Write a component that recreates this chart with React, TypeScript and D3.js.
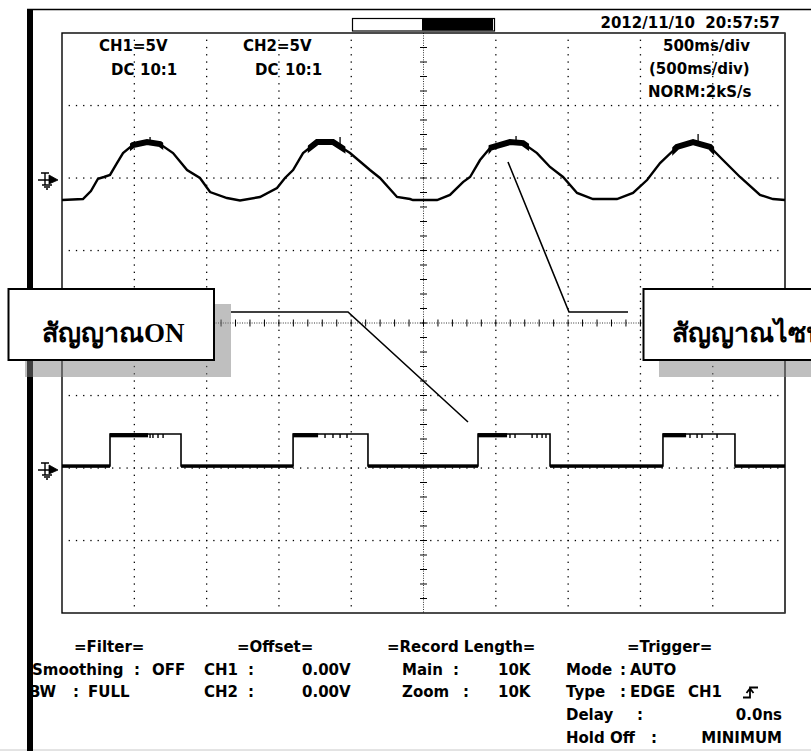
import React from "react";
import * as d3 from "d3";

const W = 811;
const H = 751;

// ---------- data ----------
// CH1 (sine-like) samples: time in ms, volts (5 V/div)
const ch1Time = [0, 145, 200, 249, 290, 332, 380, 422, 491, 588, 678, 768, 865, 954, 1024, 1141, 1231, 1369, 1487, 1542, 1598, 1667, 1764, 1874, 1992, 2130, 2199, 2317, 2407, 2427, 2594, 2683, 2773, 2822, 2891, 2960, 3098, 3188, 3285, 3375, 3465, 3562, 3672, 3838, 3949, 4046, 4136, 4253, 4364, 4482, 4571, 4689, 4827, 4917, 5000];
const ch1Volt = [-1.52, -1.45, -0.9, -0.05, 0.07, 0.21, 1.03, 1.72, 2.28, 2.48, 2.34, 1.72, 0.55, 0.0, -0.97, -1.38, -1.55, -1.31, -0.69, 0.0, 0.55, 1.72, 2.48, 2.48, 1.72, 0.55, 0.0, -1.31, -1.45, -1.52, -1.52, -1.17, -0.28, 0.07, 1.24, 2.07, 2.48, 2.41, 1.72, 0.76, 0.07, -1.03, -1.45, -1.45, -1.03, -0.14, 1.03, 2.14, 2.48, 2.14, 1.24, 0.07, -1.17, -1.45, -1.52];
// noisy (thick) stretches of CH1 around the crests: [start ms, end ms]
const ch1NoiseBands = [[470, 700], [1700, 1960], [2950, 3230], [4220, 4510]];
// CH1 glitch spikes: [ms, top volts]
const ch1Spikes = [[609, 2.83], [1923, 2.83], [3140, 2.9], [4399, 3.03]];

// CH2 (square) levels: step change times in ms and level in volts
const ch2Time = [0, 332, 823, 1598, 2116, 2877, 3375, 4156, 4654, 5000];
const ch2Volt = [0.15, 2.35, 0.15, 2.35, 0.15, 2.35, 0.15, 2.35, 0.15, 0.15];
// thick band at the start of each high level: [start ms, end ms]
const ch2HighBands = [[332, 595], [1598, 1771], [2877, 3078], [4156, 4316]];
// small drop-out ticks on the high level (ms)
const ch2Ticks = [609, 629, 664, 699, 1819, 1874, 1923, 1971, 3098, 3133, 3251, 3285, 3320, 3347, 4343, 4392, 4426, 4530];

// ---------- text ----------
const dateLabel = "2012/11/10  20:57:57";
const headerTexts = ["CH1=5V", "DC", "10:1", "CH2=5V", "DC", "10:1", "500ms/div", "(500ms/div)", "NORM:2kS/s"];
const footerTexts = [
  "=Filter=", "=Offset=", "=Record Length=", "=Trigger=",
  "Smoothing", ":", "OFF", "CH1", ":", "0.00V", "Main", ":", "10K", "Mode", ":", "AUTO",
  "BW", ":", "FULL", "CH2", ":", "0.00V", "Zoom", ":", "10K", "Type", ":", "EDGE", "CH1",
  "Delay", ":", "0.0ns",
  "Hold", "Off", ":", "MINIMUM",
];
const calloutLeft = "สัญญาณON";
const calloutRight = "สัญญาณไซน์";

// ---------- layout ----------
const headerPos: [number, number][] = [[99, 51], [111, 75], [140, 75], [243, 51], [255, 75], [285, 75], [663, 51], [649, 74], [648, 97]];
const footerPos: [number, number, string?][] = [
  [74, 652], [237, 652], [387, 652], [627, 652],
  [32, 675], [134, 675], [152, 675], [204, 675], [248, 675], [302, 675], [402, 675], [453, 675], [498, 675], [566, 675], [620, 675], [630, 675],
  [29, 697], [73, 697], [88, 697], [204, 697], [248, 697], [302, 697], [402, 697], [463, 697], [498, 697], [566, 697], [620, 697], [630, 697], [688, 697],
  [566, 720], [637, 720], [782, 720, "end"],
  [566, 743], [610, 743], [651, 743], [782, 743, "end"],
];

const L = 62, R = 785, T = 33, B = 613;

export default function App() {
  const x = d3.scaleLinear().domain([0, 5000]).range([L, R]);
  const yDiv = d3.scaleLinear().domain([-4, 4]).range([B, T]);
  const y1 = (v: number) => yDiv(v / 5 + 2);
  const y2 = (v: number) => yDiv(v / 5 - 2);

  const ch1 = ch1Time.map((t, i) => [t, ch1Volt[i]] as [number, number]);
  const ch2 = ch2Time.map((t, i) => [t, ch2Volt[i]] as [number, number]);

  const line1 = d3.line<[number, number]>().x(d => x(d[0])).y(d => y1(d[1]));
  const line2 = d3.line<[number, number]>().x(d => x(d[0])).y(d => y2(d[1])).curve(d3.curveStepAfter);

  const divX = (R - L) / 10;
  const divY = (B - T) / 8;

  const vGrid = d3.range(1, 10).filter(i => i !== 5).map(i => L + i * divX);
  const hGrid = d3.range(1, 8).filter(i => i !== 4).map(i => T + i * divY);
  const cx = L + 5 * divX;
  const cy = T + 4 * divY;

  const dotsY = d3.range(1, 80).map(k => T + k * divY / 10);
  const dotsX = d3.range(1, 100).map(k => L + k * divX / 10);
  const minorX = d3.range(1, 50).map(k => L + k * divX / 5);
  const minorY = d3.range(1, 40).map(k => T + k * divY / 5);

  const screenFont = "'DejaVu Sans', sans-serif";
  const calloutFont = "'Liberation Serif', 'DejaVu Serif', serif";

  const groundSym = (gy: number) => {
    const c = gy + 2;
    return (
      <g stroke="#000" strokeWidth={1.4} fill="none">
        <path d={`M41,${c - 7}H49M45,${c - 7}V${c + 5}M38,${c}H50M42,${c + 5}H52M44,${c + 7}H50M46,${c + 9}H48`} />
        <path d={`M49,${c - 5}L58,${c}L49,${c + 4}Z`} fill="#000" strokeWidth={0.8} />
      </g>
    );
  };

  const lows = ch2.slice(0, -1).map((d, i) => [d[0], ch2[i + 1][0], d[1]] as [number, number, number]).filter(d => d[2] < 1);
  const highV = d3.max(ch2Volt) as number;

  const interp1 = (t: number) => {
    const k = Math.max(1, d3.bisectLeft(ch1Time, t));
    const t0 = ch1Time[k - 1], t1 = ch1Time[k];
    return ch1Volt[k - 1] + (ch1Volt[k] - ch1Volt[k - 1]) * (t - t0) / (t1 - t0);
  };

  return (
    <svg width={W} height={H} style={{ position: "absolute", left: 0, top: 0 }}>
      <rect width={W} height={H} fill="#fff" />
      <defs>
        <clipPath id="ch1bands">
          {ch1NoiseBands.map((b, i) => (
            <rect key={i} x={x(b[0])} y={T} width={x(b[1]) - x(b[0])} height={B - T} />
          ))}
        </clipPath>
        <clipPath id="plot">
          <rect x={L} y={T} width={R - L} height={B - T} />
        </clipPath>
      </defs>

      {/* outer frame */}
      <line x1={27} x2={W} y1={9.5} y2={9.5} stroke="#000" strokeWidth={1.5} />
      <line x1={0} x2={W} y1={750} y2={750} stroke="#c8c8c8" strokeWidth={1} />

      {/* top memory bar */}
      <rect x={352.5} y={18.5} width={142} height={12.5} fill="#fff" stroke="#000" strokeWidth={1.2} />
      <rect x={422} y={19} width={71} height={11.5} fill="#000" />

      {/* grid dots */}
      <g fill="#000">
        {vGrid.map((gx, i) => dotsY.map((dy, j) => <rect key={`v${i}-${j}`} x={gx - 0.6} y={dy - 0.6} width={1.3} height={1.3} />))}
        {hGrid.map((gy, i) => dotsX.map((dx, j) => <rect key={`h${i}-${j}`} x={dx - 0.6} y={gy - 0.6} width={1.3} height={1.3} />))}
      </g>
      {/* centre cross */}
      <g stroke="#000" strokeWidth={1}>
        <line x1={L} x2={R} y1={cy} y2={cy} strokeDasharray="1 1.4" strokeWidth={0.8} />
        <line x1={cx} x2={cx} y1={T} y2={B} strokeDasharray="1 1.4" strokeWidth={0.8} />
        {minorX.map((mx, i) => <line key={`mx${i}`} x1={mx} x2={mx} y1={cy - 3.5} y2={cy + 3.5} />)}
        {minorY.map((my, i) => <line key={`my${i}`} x1={cx - 3.5} x2={cx + 3.5} y1={my} y2={my} />)}
      </g>

      {/* plot border */}
      <rect x={L} y={T} width={R - L} height={B - T} fill="none" stroke="#000" strokeWidth={1.4} />
      <line x1={R} x2={R} y1={T} y2={B} stroke="#444" strokeWidth={1.6} />

      {/* traces */}
      <g clipPath="url(#plot)">
        <path d={line1(ch1) ?? ""} fill="none" stroke="#000" strokeWidth={2.4} strokeLinejoin="miter" />
        <path d={line1(ch1) ?? ""} fill="none" stroke="#000" strokeWidth={6} clipPath="url(#ch1bands)" />
        {ch1Spikes.map((s, i) => (
          <line key={i} x1={x(s[0])} x2={x(s[0])} y1={y1(interp1(s[0]))} y2={y1(s[1])} stroke="#000" strokeWidth={1.3} />
        ))}

        <path d={line2(ch2) ?? ""} fill="none" stroke="#000" strokeWidth={1.6} />
        {lows.map((d, i) => (
          <rect key={i} x={x(d[0])} y={y2(d[2]) - 1.5} width={x(d[1]) - x(d[0])} height={3.5} fill="#000" />
        ))}
        {ch2HighBands.map((b, i) => (
          <rect key={i} x={x(b[0])} y={y2(highV) - 0.8} width={x(b[1]) - x(b[0])} height={4.2} fill="#000" />
        ))}
        {ch2Ticks.map((t, i) => (
          <line key={i} x1={x(t)} x2={x(t)} y1={y2(highV)} y2={y2(highV) + 4} stroke="#000" strokeWidth={1.4} />
        ))}
      </g>

      {/* ground markers */}
      {groundSym(y1(0))}
      {groundSym(y2(0))}

      {/* header texts */}
      <g fontFamily={screenFont} fontWeight="bold" fontSize={15} fill="#000">
        <text x={780} y={28} textAnchor="end" style={{ whiteSpace: "pre" }}>{dateLabel}</text>
        {headerTexts.map((s, i) => (
          <text key={i} x={headerPos[i][0]} y={headerPos[i][1]}>{s}</text>
        ))}
      </g>

      {/* footer texts */}
      <g fontFamily={screenFont} fontWeight="bold" fontSize={15} fill="#000">
        {footerTexts.map((s, i) => (
          <text key={i} x={footerPos[i][0]} y={footerPos[i][1]} textAnchor={(footerPos[i][2] as any) || "start"}>{s}</text>
        ))}
        {/* rising-edge trigger glyph */}
        <path d="M743,697.5H750V687.5H758M746.5,693L750,688.5L753.5,693" fill="none" stroke="#000" strokeWidth={1.8} />
      </g>

      {/* left thick bar */}
      <rect x={27} y={9} width={6} height={H - 9} fill="#000" />

      {/* callout leader lines */}
      <polyline points="231,312 348,312 468,422" fill="none" stroke="#000" strokeWidth={1.6} />
      <polyline points="628,312 569,312 508,162" fill="none" stroke="#000" strokeWidth={1.6} />

      {/* callout boxes */}
      <rect x={25} y={304} width={206} height={73} fill="#808080" opacity={0.5} />
      <rect x={8.5} y={289} width={205.5} height={71} fill="#fff" stroke="#000" strokeWidth={2} />
      <text x={42} y={342} fontFamily={calloutFont} fontWeight="bold" fontSize={27} fill="#000">{calloutLeft}</text>

      <rect x={659} y={304} width={200} height={73} fill="#808080" opacity={0.5} />
      <rect x={643.5} y={289} width={200} height={71} fill="#fff" stroke="#000" strokeWidth={2} />
      <text x={672} y={342} fontFamily={calloutFont} fontWeight="bold" fontSize={27} fill="#000">{calloutRight}</text>
    </svg>
  );
}
